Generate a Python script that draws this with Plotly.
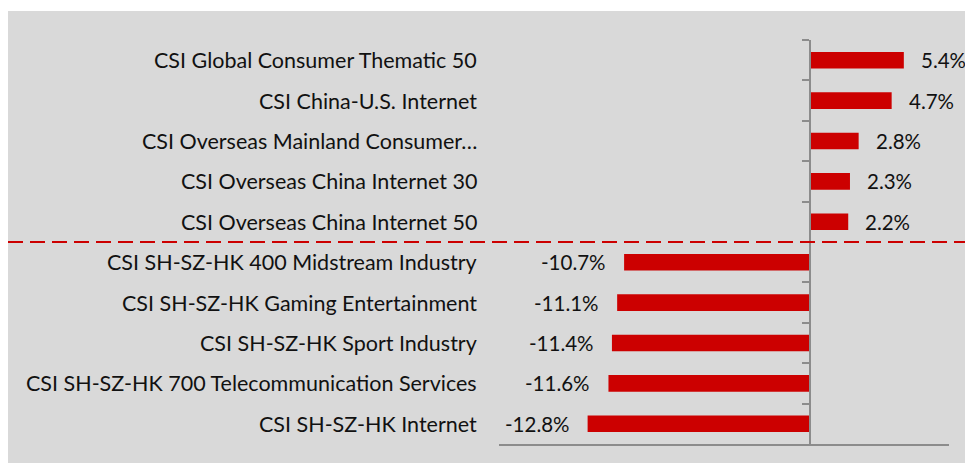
import plotly.graph_objects as go

categories = [
    "CSI Global Consumer Thematic 50",
    "CSI China-U.S. Internet",
    "CSI Overseas Mainland Consumer…",
    "CSI Overseas China Internet 30",
    "CSI Overseas China Internet 50",
    "CSI SH-SZ-HK 400 Midstream Industry",
    "CSI SH-SZ-HK Gaming Entertainment",
    "CSI SH-SZ-HK Sport Industry",
    "CSI SH-SZ-HK 700 Telecommunication Services",
    "CSI SH-SZ-HK Internet",
]
values = [5.4, 4.7, 2.8, 2.3, 2.2, -10.7, -11.1, -11.4, -11.6, -12.8]
value_labels = ["5.4%", "4.7%", "2.8%", "2.3%", "2.2%",
                "-10.7%", "-11.1%", "-11.4%", "-11.6%", "-12.8%"]
split_after = 5  # dashed separator between positive and negative groups

# figure is placed at (8, 8) inside the page by the default body margin
W, H = 965, 455
ML, MR, MT, MB = 491, 24, 32, 19
PW = W - ML - MR
PH = H - MT - MB
FONT = "Lato"
GRAY_AX = "#8c8c8c"
RED = "#cc0000"

fig = go.Figure()
fig.add_trace(go.Bar(
    y=categories, x=values, orientation="h",
    marker=dict(color=RED, line=dict(width=0)),
    width=0.41, hoverinfo="skip",
))

annotations = []
for c, v, t in zip(categories, values, value_labels):
    annotations.append(dict(
        x=v, y=c, xref="x", yref="y", text=t, showarrow=False,
        xanchor="left" if v >= 0 else "right",
        xshift=15 if v >= 0 else -16,
        font=dict(family=FONT, size=20.5, color="#111111"),
    ))
for c in categories:
    annotations.append(dict(
        x=(471 - ML) / PW, xref="paper", y=c, yref="y", text=c,
        showarrow=False, xanchor="right",
        font=dict(family=FONT, size=21.5, color="#111111"),
    ))

zero_pos = (802 - ML) / PW
shapes = [
    dict(type="rect", xref="paper", yref="paper", layer="below",
         x0=-ML / PW, x1=(W - ML) / PW + 0.01,
         y0=-MB / PH - 0.01, y1=(H - 3 - MB) / PH,
         fillcolor="#d9d9d9", line=dict(width=0)),
    dict(type="line", xref="paper", yref="paper",
         x0=-ML / PW, x1=(W - ML) / PW,
         y0=1 - split_after / len(categories), y1=1 - split_after / len(categories),
         line=dict(color=RED, width=2, dash="15px,7px")),
]

fig.update_layout(
    width=W, height=H,
    margin=dict(l=ML, r=MR, t=MT, b=MB),
    paper_bgcolor="white", plot_bgcolor="rgba(0,0,0,0)",
    showlegend=False,
    annotations=annotations, shapes=shapes,
    xaxis=dict(range=[-17.9, 8.0], showline=True, linecolor=GRAY_AX, linewidth=2,
               showgrid=False, zeroline=False, showticklabels=False, ticks="",
               fixedrange=True),
    yaxis=dict(autorange="reversed", anchor="free", position=zero_pos,
               showline=True, linecolor=GRAY_AX, linewidth=2,
               ticks="outside", tickson="boundaries", ticklen=7, tickwidth=2,
               tickcolor=GRAY_AX, showticklabels=False, showgrid=False,
               fixedrange=True),
)

fig.write_html("out.html")
